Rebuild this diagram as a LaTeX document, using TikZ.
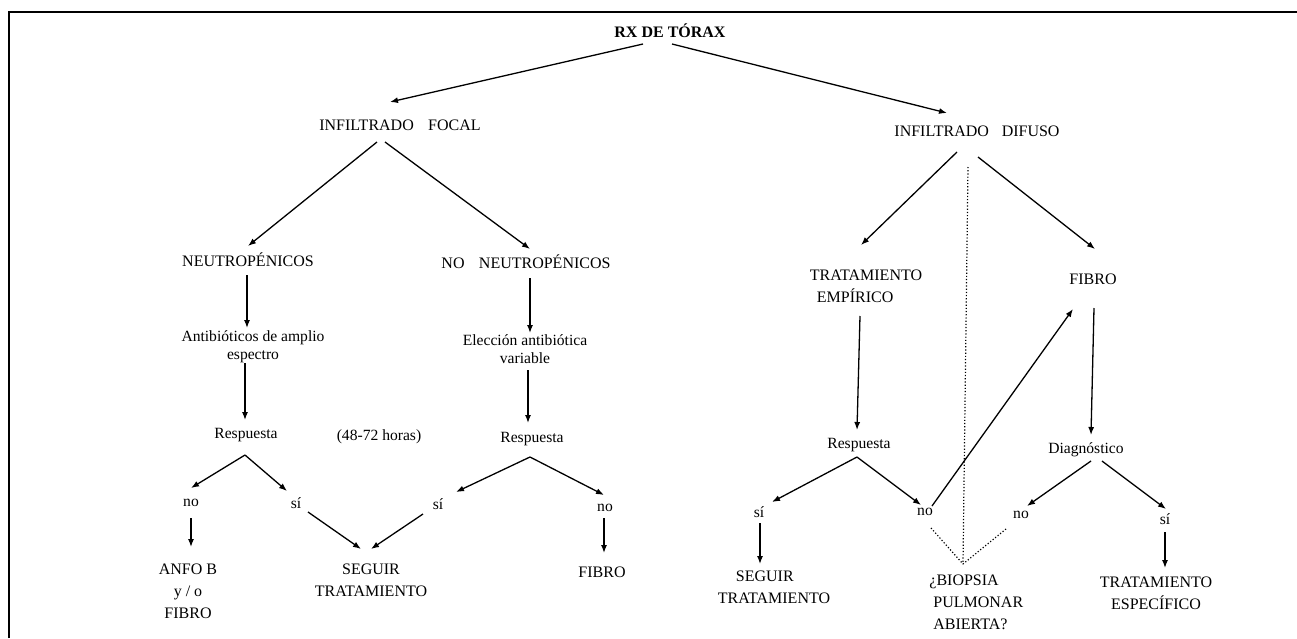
\documentclass[tikz,border=0pt]{standalone}
\usepackage{fontspec}
\setmainfont{Liberation Serif}
\usetikzlibrary{arrows.meta,calc}
\begin{document}
\begin{tikzpicture}[x=0.5pt,y=-0.5pt,
  txt/.style={inner sep=0pt, align=center, font=\fontsize{8}{11}\selectfont},
  ltxt/.style={inner sep=0pt, align=center, font=\fontsize{7.8}{9}\selectfont},
  arr/.style={-{Latex[length=4pt,width=3pt]}, line width=0.65pt},
  dot/.style={line width=0.6pt, dash pattern=on 0.6pt off 1pt},
  frame/.style={line width=0.9pt}]
\useasboundingbox (0,0) rectangle (1297,638);
\draw[frame] (9,638) -- (9,12) -- (1297,12);

% nodes
\node[txt, font=\fontsize{8}{11}\selectfont\bfseries] (rx) at (670,31) {RX DE TÓRAX};
\node[txt] (foc) at (400,125) {INFILTRADO\hspace{0.9em}FOCAL};
\node[txt] (dif) at (977,131) {INFILTRADO\hspace{0.8em}DIFUSO};
\node[txt] (neu) at (248,260) {NEUTROPÉNICOS};
\node[txt] (nneu) at (526,262) {NO\hspace{0.9em}NEUTROPÉNICOS};
\node[ltxt] (ant) at (253,347) {Antibióticos de amplio\\espectro};
\node[ltxt] (ele) at (525,349) {Elección antibiótica\\variable};
\node[ltxt] (resp1) at (246,435) {Respuesta};
\node[ltxt] (horas) at (379,437) {(48-72 horas)};
\node[ltxt] (resp2) at (532,439) {Respuesta};
\node[ltxt] (no1) at (191,503) {no};
\node[ltxt] (si1) at (296,503) {sí};
\node[ltxt] (si2) at (438,504) {sí};
\node[ltxt] (no2) at (605,508) {no};
\node[txt] (anfo) at (188,591) {ANFO B\\y / o\\FIBRO};
\node[txt] (seg1) at (371,580) {SEGUIR\\TRATAMIENTO};
\node[txt] (fib1) at (602,572) {FIBRO};
\node[txt, align=left] (trat) at (866,286) {TRATAMIENTO\\\hspace{3.5pt}EMPÍRICO};
\node[txt] (fib2) at (1093,279) {FIBRO};
\node[ltxt] (resp3) at (859,445) {Respuesta};
\node[ltxt] (diag) at (1086,450) {Diagnóstico};
\node[ltxt] (si3) at (759,512) {sí};
\node[ltxt] (no3) at (925,512) {no};
\node[ltxt] (no4) at (1021,515) {no};
\node[ltxt] (si4) at (1165,519) {sí};
\node[txt, align=left] (seg2) at (774,587) {\hspace{9pt}SEGUIR\\TRATAMIENTO};
\node[txt, align=left, anchor=west] (bio) at (929,602) {¿BIOPSIA\\\hspace{0.25em}PULMONAR\\\hspace{0.25em}ABIERTA?};
\node[txt] (esp) at (1156,593) {TRATAMIENTO\\ESPECÍFICO};

% connectors
\draw[arr] ($(rx)+(-27,13)$) -- ($(foc)+(-10,-23)$);
\draw[arr] ($(rx)+(2,13)$) -- ($(dif)+(-30,-18)$);
\draw[arr] ($(foc)+(-23,17)$) -- ($(neu)+(0,-14)$);
\draw[arr] ($(foc)+(-15,17)$) -- ($(nneu)+(4,-13)$);
\draw[arr] ($(neu)+(-1,15)$) -- ($(ant)+(-6,-19)$);
\draw[arr] ($(ant)+(-8,16)$) -- ($(resp1)+(-1,-15)$);
\draw[arr] ($(nneu)+(4,16)$) -- ($(ele)+(5,-16)$);
\draw[arr] ($(ele)+(3,21)$) -- ($(resp2)+(-4,-16)$);
\draw[arr] ($(resp1)+(-1,20)$) -- ($(no1)+(0,-15)$);
\draw[arr] ($(resp1)+(-1,20)$) -- ($(si1)+(-9,-12)$);
\draw[arr] ($(no1)+(0,15)$) -- ($(anfo)+(3,-44)$);
\draw[arr] ($(si1)+(12,9)$) -- ($(seg1)+(-10,-31)$);
\draw[arr] ($(resp2)+(-2,18)$) -- ($(si2)+(18,-12)$);
\draw[arr] ($(resp2)+(-2,18)$) -- ($(no2)+(-1,-13)$);
\draw[arr] ($(si2)+(-15,10)$) -- ($(seg1)+(0,-31)$);
\draw[arr] ($(no2)+(-1,10)$) -- ($(fib1)+(2,-19)$);
\draw[arr] ($(dif)+(-20,21)$) -- ($(trat)+(-5,-41)$);
\draw[arr] ($(dif)+(1,26)$) -- ($(fib2)+(2,-30)$);
\draw[arr] ($(trat)+(-6,30)$) -- ($(resp3)+(-2,-15)$);
\draw[arr] ($(fib2)+(1,29)$) -- ($(diag)+(5,-15)$);
\draw[arr] ($(resp3)+(-2,12)$) -- ($(si3)+(13,-10)$);
\draw[arr] ($(resp3)+(-2,12)$) -- ($(no3)+(-4,-7)$);
\draw[arr] ($(no3)+(7,-6)$) -- ($(fib2)+(-20,30)$);
\draw[arr] ($(si3)+(1,11)$) -- ($(seg2)+(-14,-23)$);
\draw[arr] ($(diag)+(5,11)$) -- ($(no4)+(6,-9)$);
\draw[arr] ($(diag)+(16,11)$) -- ($(si4)+(1,-10)$);
\draw[arr] ($(si4)+(0,13)$) -- ($(esp)+(9,-25)$);
% dotted
\draw[dot] ($(dif)+(-9,36)$) -- ($(bio.west)+(34,-38)$);
\draw[dot] ($(no3)+(6,16)$) -- ($(bio.west)+(34,-38)$);
\draw[dot] ($(no4)+(-15,14)$) -- ($(bio.west)+(34,-38)$);
\end{tikzpicture}
\end{document}
